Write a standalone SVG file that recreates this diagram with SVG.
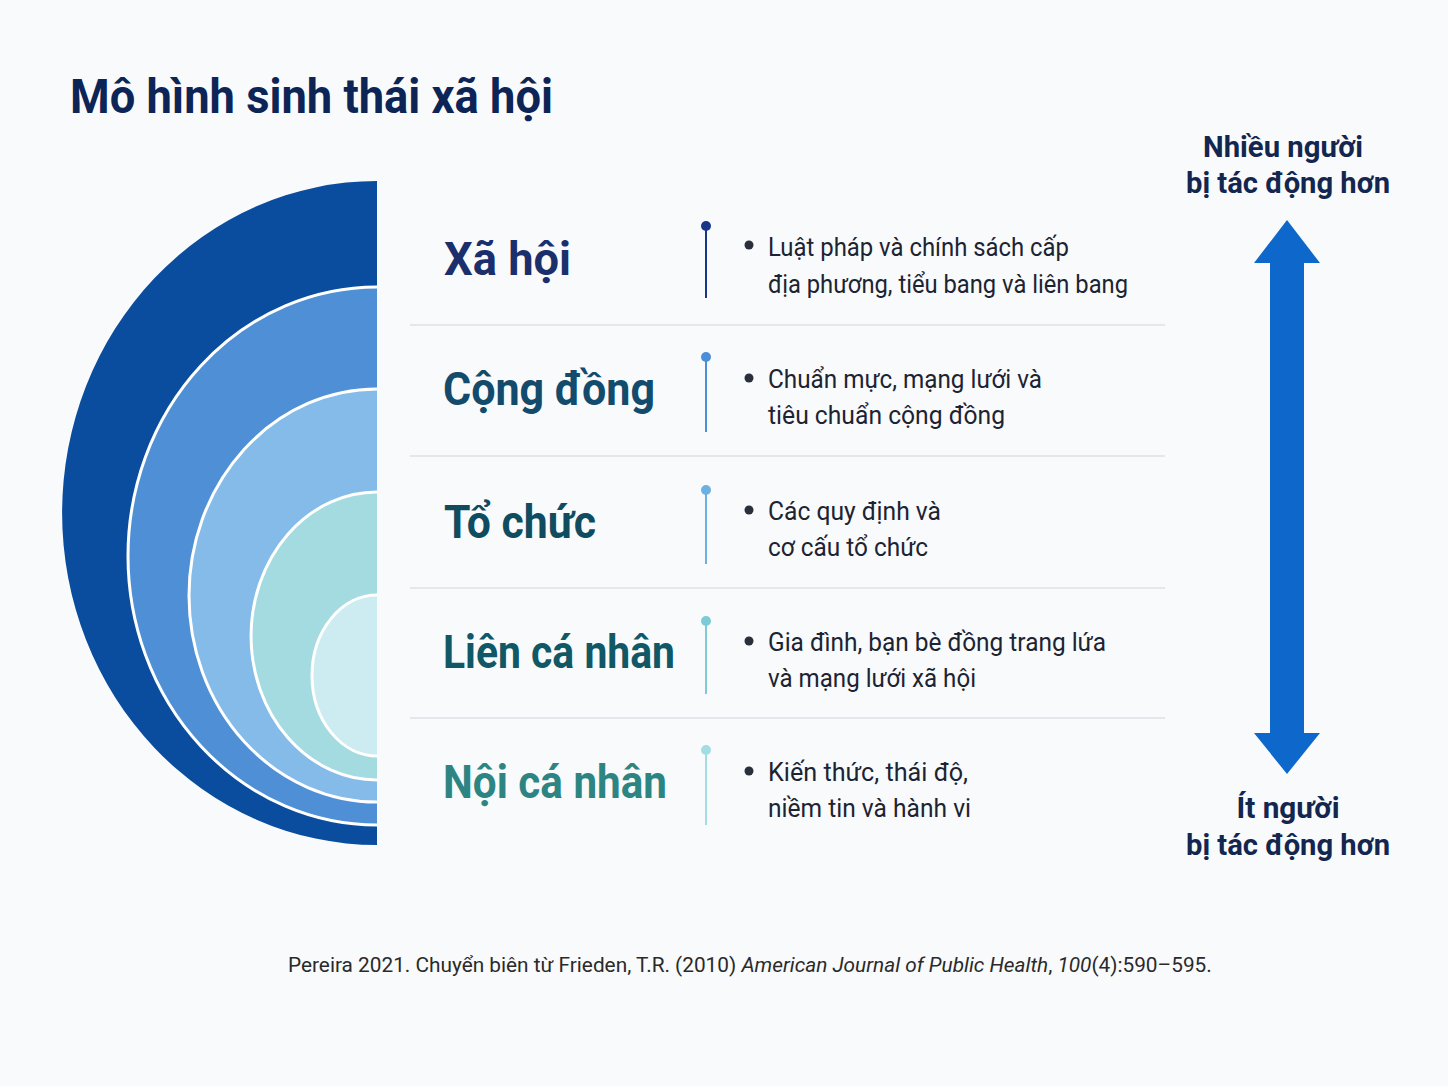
<svg xmlns="http://www.w3.org/2000/svg" width="1448" height="1086" viewBox="0 0 1448 1086">
  <style>
    .title { font-family: Roboto, "Liberation Sans", sans-serif; font-weight: 700; font-size: 48px; fill: #0d2556; }
    .label { font-family: Roboto, "Liberation Sans", sans-serif; font-weight: 700; font-size: 46px; }
    .desc { font-family: Roboto, "Liberation Sans", sans-serif; font-size: 25px; fill: #1c2433; }
    .side { font-family: Roboto, "Liberation Sans", sans-serif; font-weight: 700; font-size: 29px; fill: #13264f; text-anchor: middle; }
    .cite { font-family: Roboto, "Liberation Sans", sans-serif; font-size: 20.8px; fill: #2a2a2a; }
    .it { font-style: italic; }
    .ring { stroke: #ffffff; stroke-width: 3; }
    .sep { stroke: #e4e7eb; stroke-width: 2; }
    .bullet { fill: #2a303b; }
  </style>
  <rect width="1448" height="1086" fill="#f9fafb"/>

  <text class="title" x="70" y="113" textLength="483" lengthAdjust="spacingAndGlyphs">Mô hình sinh thái xã hội</text>

  <g id="rings">
    <path id="ring-xa-hoi" d="M377,181 A315,332 0 0 0 377,845 Z" fill="#0a4c9e"/>
    <path id="ring-cong-dong" class="ring" d="M377,287 A249,269 0 0 0 377,825" fill="#4f8fd5"/>
    <path id="ring-to-chuc" class="ring" d="M377,389 A188,206.5 0 0 0 377,802" fill="#85bbe8"/>
    <path id="ring-lien-ca-nhan" class="ring" d="M377,492 A126,144 0 0 0 377,780" fill="#a4dbe1"/>
    <path id="ring-noi-ca-nhan" class="ring" d="M377,595 A65,80.5 0 0 0 377,756" fill="#cdecf1"/>
  </g>

  <g id="separators">
    <line class="sep" x1="410" y1="325" x2="1165" y2="325"/>
    <line class="sep" x1="410" y1="456" x2="1165" y2="456"/>
    <line class="sep" x1="410" y1="588" x2="1165" y2="588"/>
    <line class="sep" x1="410" y1="718" x2="1165" y2="718"/>
  </g>

  <g id="row-xa-hoi">
    <text class="label" x="444" y="275" fill="#1a2f6b" textLength="127" lengthAdjust="spacingAndGlyphs">Xã hội</text>
    <circle class="bullet" cx="749" cy="245" r="4.5"/>
    <text class="desc" x="768" y="256" textLength="301" lengthAdjust="spacingAndGlyphs">Luật pháp và chính sách cấp</text>
    <text class="desc" x="768" y="293" textLength="360" lengthAdjust="spacingAndGlyphs">địa phương, tiểu bang và liên bang</text>
  </g>
  <g id="row-cong-dong">
    <text class="label" x="443" y="405" fill="#134b6c" textLength="212" lengthAdjust="spacingAndGlyphs">Cộng đồng</text>
    <circle class="bullet" cx="749" cy="378" r="4.5"/>
    <text class="desc" x="768" y="388" textLength="274" lengthAdjust="spacingAndGlyphs">Chuẩn mực, mạng lưới và</text>
    <text class="desc" x="768" y="424" textLength="237" lengthAdjust="spacingAndGlyphs">tiêu chuẩn cộng đồng</text>
  </g>
  <g id="row-to-chuc">
    <text class="label" x="444" y="538" fill="#0f4c60" textLength="152" lengthAdjust="spacingAndGlyphs">Tổ chức</text>
    <circle class="bullet" cx="749" cy="510" r="4.5"/>
    <text class="desc" x="768" y="520" textLength="173" lengthAdjust="spacingAndGlyphs">Các quy định và</text>
    <text class="desc" x="768" y="556" textLength="160" lengthAdjust="spacingAndGlyphs">cơ cấu tổ chức</text>
  </g>
  <g id="row-lien-ca-nhan">
    <text class="label" x="443" y="668" fill="#115866" textLength="232" lengthAdjust="spacingAndGlyphs">Liên cá nhân</text>
    <circle class="bullet" cx="749" cy="641" r="4.5"/>
    <text class="desc" x="768" y="651" textLength="338" lengthAdjust="spacingAndGlyphs">Gia đình, bạn bè đồng trang lứa</text>
    <text class="desc" x="768" y="687" textLength="208" lengthAdjust="spacingAndGlyphs">và mạng lưới xã hội</text>
  </g>
  <g id="row-noi-ca-nhan">
    <text class="label" x="443" y="798" fill="#2c8583" textLength="224" lengthAdjust="spacingAndGlyphs">Nội cá nhân</text>
    <circle class="bullet" cx="749" cy="771" r="4.5"/>
    <text class="desc" x="768" y="781" textLength="200" lengthAdjust="spacingAndGlyphs">Kiến thức, thái độ,</text>
    <text class="desc" x="768" y="817" textLength="203" lengthAdjust="spacingAndGlyphs">niềm tin và hành vi</text>
  </g>

  <g id="connectors">
    <line x1="706" y1="226" x2="706" y2="298" stroke="#1a3688" stroke-width="2"/>
    <circle cx="706" cy="226" r="5" fill="#1a3688"/>
    <line x1="706" y1="357" x2="706" y2="432" stroke="#4a8fd8" stroke-width="2"/>
    <circle cx="706" cy="357" r="5" fill="#4a8fd8"/>
    <line x1="706" y1="490" x2="706" y2="564" stroke="#6cb1e2" stroke-width="2"/>
    <circle cx="706" cy="490" r="5" fill="#6cb1e2"/>
    <line x1="706" y1="621" x2="706" y2="694" stroke="#7ccbd6" stroke-width="2"/>
    <circle cx="706" cy="621" r="5" fill="#7ccbd6"/>
    <line x1="706" y1="750" x2="706" y2="825" stroke="#a2dde6" stroke-width="2"/>
    <circle cx="706" cy="750" r="5" fill="#a2dde6"/>
    <polygon id="impact-arrow" points="1287,220 1320,263 1304,263 1304,733 1320,733 1287,774 1254,733 1270,733 1270,263 1254,263" fill="#0e68cc"/>
  </g>

  <g id="side-top">
    <text class="side" x="1283" y="157" textLength="160" lengthAdjust="spacingAndGlyphs">Nhiều người</text>
    <text class="side" x="1288" y="193" textLength="204" lengthAdjust="spacingAndGlyphs">bị tác động hơn</text>
  </g>
  <g id="side-bottom">
    <text class="side" x="1288" y="818" textLength="103" lengthAdjust="spacingAndGlyphs">Ít người</text>
    <text class="side" x="1288" y="855" textLength="204" lengthAdjust="spacingAndGlyphs">bị tác động hơn</text>
  </g>

  <text id="citation" class="cite" x="288" y="972">Pereira 2021. Chuyển biên từ Frieden, T.R. (2010) <tspan class="it">American Journal of Public Health</tspan>, <tspan class="it">100</tspan>(4):590–595.</text>
</svg>
